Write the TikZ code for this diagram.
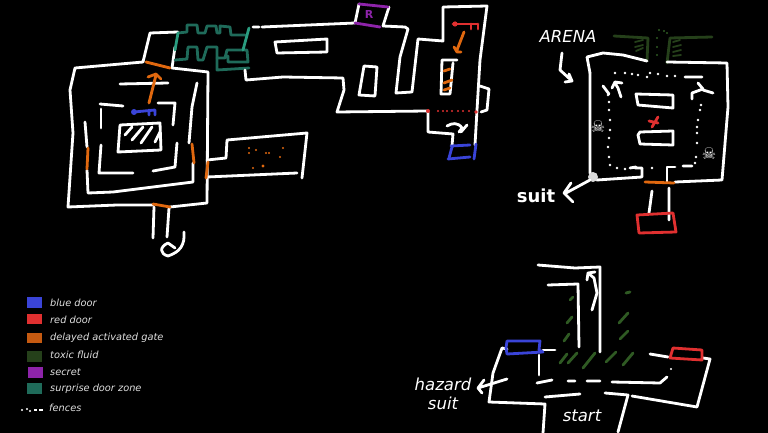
\documentclass[tikz,border=0pt]{standalone}
\usepackage{fontspec}
\setmainfont{DejaVu Sans}
\newfontfamily\skullfont{DejaVu Sans}
\definecolor{cblue}{HTML}{3A44D8}
\definecolor{cred}{HTML}{E03030}
\definecolor{corange}{HTML}{E0680F}
\definecolor{corangeb}{HTML}{C55A11}
\definecolor{ctoxic}{HTML}{25401A}
\definecolor{cpurple}{HTML}{8E24AA}
\definecolor{cteal}{HTML}{1F6B5A}
\definecolor{cpost}{HTML}{2A9D80}
\definecolor{chatch}{HTML}{2F5A23}
\tikzset{
  wall/.style={draw=white,line width=2.8pt,line cap=round,line join=round},
  pen/.style={draw=#1,line width=2.8pt,line cap=round,line join=round},
  thinpen/.style={draw=#1,line width=1.8pt,line cap=round,line join=round},
  legtext/.style={text=white!88!black,font=\itshape\fontsize{9.8pt}{11pt}\selectfont,anchor=west,inner sep=0pt},
  bigtext/.style={text=white,font=\itshape\fontsize{16.5pt}{18pt}\selectfont,inner sep=0pt},
  swatch/.style={draw=none,fill=#1}
}
\begin{document}
\begin{tikzpicture}[x=1pt,y=-1pt]
\fill[black] (0,0) rectangle (768,433);
\useasboundingbox (0,0) rectangle (768,433);
% ---- left map: maze
\draw[wall] (143,62) -- (75,68) -- (70,90) -- (73,133) -- (68,207) -- (117,205) -- (153,205);
\draw[wall] (170,207) -- (207,203) -- (208,72) -- (172,68) -- (175,47);
\draw[wall] (143,62) -- (150,33) -- (178,32);
\draw[wall] (85,122) -- (87,147);
\draw[wall] (87,170) -- (88,193) -- (113,192) -- (193,182) -- (193,163);
\draw[wall] (189,143) -- (192,107) -- (197,83);
\draw[wall] (120,84) -- (168,83);
\draw[wall] (100,104) -- (123,106);
\draw[wall] (101,109) -- (101,128);
\draw[wall] (101,145) -- (99,173) -- (133,173);
\draw[wall] (153,171) -- (175,167) -- (177,143);
\draw[wall] (173,125) -- (175,103) -- (158,103);
\draw[wall] (120,125) -- (160,123) -- (161,150) -- (118,152) -- cycle;
\draw[wall] (125,135) -- (132,127) (132,140) -- (143,127) (141,143) -- (152,127) (155,142) -- (160,132);
\draw[wall] (154,207) -- (153,238) (169,208) -- (167,237);
\draw[wall] (184,232) .. controls (185,245) and (180,252) .. (168,256) .. controls (160,254) and (159,247) .. (168,243) -- (175,248);
\draw[wall] (207,160) -- (226,158) -- (227,140) -- (307,133) -- (302,178);
\draw[wall] (207,177) -- (297,173);
\draw[pen=corange] (146,62) -- (170,68);
\draw[pen=corange] (88,148) -- (87,169);
\draw[pen=corange] (192,144) -- (194,163);
\draw[pen=corange] (208,162) -- (206,178);
\draw[pen=corange] (153,204) -- (170,207);
\draw[pen=corange] (149,103) -- (156,75) (148,77) -- (156,74) -- (161,79);
\draw[pen=cblue] (134,112) -- (155,110) (149,110) -- (149,115) (155,110) -- (155,115);
\fill[cblue] (134,112) circle (3pt);
\foreach \x/\y in {249/148,249/153,256/150,266/153,269/153,283/148,280/157,253/168}
  \fill[corange] (\x,\y) circle (1.2pt);
\fill[corange] (263,166) circle (1.6pt);
% surprise door zone
\draw[pen=cteal] (178,33) -- (187,32) -- (187,25) -- (197,25) -- (198,33) -- (205,33) -- (207,26) -- (216,26) -- (217,33) -- (220,33) -- (220,26) -- (230,27) -- (231,35) -- (245,35);
\draw[pen=cteal] (175,60) -- (187,59) -- (188,47) -- (197,47) -- (198,60) -- (203,60) -- (207,47) -- (217,47) -- (217,58) -- (225,58) -- (227,50) -- (247,50) -- (248,62) -- (228,62) -- (228,56);
\draw[pen=cteal] (217,58) -- (217,70) -- (249,68);
\draw[pen=cpost] (178,33) -- (175,50) (249,28) -- (243,50);
% ---- left map: hall
\draw[wall] (253,27) -- (259,27) (262,27) -- (355,23) (359,4) -- (355,23) (389,7) -- (383,26);
\draw[wall] (383,26) -- (405,27) -- (408,29) -- (400,57) -- (396,93) -- (412,92) -- (418,39) -- (443,41) -- (443,7) -- (487,6) -- (480,60) -- (477,110) -- (475,145);
\draw[wall] (480,86) -- (489,89) -- (487,110) -- (481,112);
\draw[wall] (245,70) -- (246,80) -- (283,77) -- (343,78) -- (344,90) -- (337,112) -- (427,111);
\draw[wall] (275,42) -- (327,39) -- (327,52) -- (277,53) -- cycle;
\draw[wall] (364,66) -- (377,67) -- (375,96) -- (359,95) -- cycle;
\draw[wall] (442,60) -- (457,60) (453,63) -- (450,94) -- (441,94) -- (442,60);
\draw[wall] (428,112) -- (428,132) -- (453,134) -- (452,146);
\draw[wall] (447,126) .. controls (452,123) and (458,122) .. (462,128) -- (459,132) (467,125) -- (461,132);
\draw[pen=cpurple] (359,4) -- (388,7) (355,23) -- (380,27);
\node[text=cpurple,font=\bfseries\fontsize{11pt}{12pt}\selectfont,inner sep=0pt] (secretR) at (369,14) {R};
\draw[pen=corange] (444,71) -- (450,69) (444,83) -- (452,80) (444,90) -- (450,88);
\draw[pen=cred] (453,24) -- (478,24) (471,24) -- (471,29) (478,24) -- (478,29);
\fill[cred] (455,24) circle (2.6pt);
\draw[pen=corange] (464,32) -- (457,50) (454,47) -- (457,52) -- (461,52);
\fill[cred] (428,111) circle (2pt);
\foreach \x in {438,443,447,452,458,463,469}
  \fill[cred] (\x,111) circle (1.2pt);
\fill[cred] (476,112) circle (1.8pt);
\draw[pen=cblue] (451,146) -- (470,145) (448,159) -- (470,157) (452,147) -- (449,158) (476,144) -- (474,159);
% ---- arena
\node[bigtext] (arena) at (568,36) {ARENA};
\draw[wall] (562,53) -- (560,70) -- (572,81) (569,74) -- (572,81) -- (565,82);
\draw[pen=ctoxic] (614,36) -- (648,38) -- (647,61);
\draw[pen=ctoxic] (712,37) -- (670,38) -- (667,63);
\draw[thinpen=ctoxic] (635,42) -- (643,40) (635,47) -- (643,45) (636,51) -- (643,48);
\draw[thinpen=ctoxic] (673,42) -- (680,40) (673,47) -- (681,45) (673,52) -- (681,50) (673,56) -- (681,55);
\foreach \x/\y in {659/30,664/31,667/33,657/38,657/47,657/55}
  \fill[chatch] (\x,\y) circle (1.2pt);
\draw[wall] (590,73) -- (587,57) -- (603,53) -- (623,55) -- (647,61);
\draw[wall] (667,62) -- (727,63) -- (728,107) -- (722,180) -- (675,182);
\draw[wall] (590,73) -- (590,173) -- (597,180) -- (642,177) -- (642,168) -- (635,168);
\draw[wall] (667,182) -- (667,167) -- (675,167);
\fill[white!85!black] (593,177) circle (5pt);
\draw[pen=corange] (645,182) -- (674,183);
\draw[wall] (652,191) -- (649,213) (669,188) -- (669,220);
\draw[pen=cred] (637,215) -- (673,213) -- (676,232) -- (639,233) -- cycle;
\draw[wall] (636,94) -- (673,95) -- (673,108) -- (638,105) -- cycle;
\draw[wall] (640,132) -- (673,131) -- (673,145) -- (640,144) -- (638,135) -- cycle;
\draw[pen=cred] (649,121) -- (658,123) (658,117) -- (652,127);
\node[text=white,font=\skullfont\fontsize{16pt}{17pt}\selectfont,inner sep=0pt] (skulla) at (598,127) {☠};
\node[text=white,font=\skullfont\fontsize{16pt}{17pt}\selectfont,inner sep=0pt] (skullb) at (709,154) {☠};
\foreach \x/\y in {615/73,625/73,632/74,638/75,647/77,650/73,658/74,667/76,675/76,701/105,700/110,698/120,697/127,697/133,697/143,696/157,695/163,608/95,609/102,609/110,610/120,610/130,609/138,608/147,609/157,610/165,617/168,625/169,652/168}
  \fill[white] (\x,\y) circle (1.4pt);
\draw[wall] (685,77) -- (702,77) (683,166) -- (692,166) (630,168) -- (636,167) (603,86) -- (609,94);
\draw[wall] (621,97) -- (618,88) -- (615,83) (612,88) -- (615,82) -- (622,83);
\draw[wall] (692,99) -- (692,93) -- (703,89) -- (698,83) (703,90) -- (713,93);
\draw[wall] (590,180) -- (566,193) (571,183) -- (564,193) -- (573,202);
\node[text=white,font=\bfseries\fontsize{18pt}{19pt}\selectfont,inner sep=0pt] (suitlabel) at (536,196) {suit};
% ---- start area
\draw[wall] (538,265) -- (575,268) -- (600,267) -- (600,352);
\draw[wall] (548,285) -- (578,284) -- (579,347);
\draw[wall] (592,310) -- (597,293) -- (594,278) -- (588,273) (587,280) -- (588,273) -- (595,272);
\draw[wall] (543,350) -- (555,350);
\draw[wall] (507,349) -- (502,348) -- (493,373) -- (489,402) -- (545,404) -- (543,433);
\draw[wall] (539,355) -- (539,375);
\draw[wall] (537,383) -- (552,380) (568,381) -- (575,381) (587,381) -- (600,381) (612,382) -- (660,383) -- (667,377);
\fill[white] (671,369) circle (1.2pt);
\draw[wall] (545,397) -- (580,394) (605,393) -- (628,395) -- (618,432) (632,396) -- (697,407) -- (710,359) -- (703,358) (650,354) -- (668,357);
\draw[wall] (507,379) -- (478,388) (484,380) -- (478,388) -- (482,393);
\draw[pen=cblue] (507,341) -- (540,341) -- (539,350) -- (543,352) -- (507,354) -- (506,348) -- cycle;
\draw[pen=cred] (673,348) -- (702,350) -- (702,360) -- (670,358) -- cycle;
\draw[pen=chatch] (570,300) -- (573,297) (567,323) -- (572,317) (564,341) -- (569,334) (560,363) -- (567,354) (568,363) -- (577,353) (583,368) -- (595,353) (606,362) -- (616,352) (623,365) -- (633,353) (619,323) -- (628,313) (620,339) -- (628,331) (626,293) -- (630,292);
\node[bigtext] (hazard) at (443,384) {hazard};
\node[bigtext] (hsuit) at (443,403) {suit};
\node[bigtext] (start) at (582,416) {start};
% ---- legend
\path[swatch=cblue] (27,297) rectangle (42,308);
\path[swatch=cred] (27,314) rectangle (42,324);
\path[swatch=corangeb] (27,333) rectangle (42,343);
\path[swatch=ctoxic] (27,351) rectangle (42,362);
\path[swatch=cpurple] (28,367) rectangle (43,378);
\path[swatch=cteal] (27,383) rectangle (42,394);
\node[legtext] (l1) at (50,302.5) {blue door};
\node[legtext] (l2) at (50,319.5) {red door};
\node[legtext] (l3) at (50,337.5) {delayed activated gate};
\node[legtext] (l4) at (50,355) {toxic fluid};
\node[legtext] (l5) at (50,372.5) {secret};
\node[legtext] (l6) at (50,388.5) {surprise door zone};
\node[legtext] (l7) at (49,407.5) {fences};
\foreach \x/\y in {22/410,27/409,30/411}
  \fill[white] (\x,\y) circle (1.1pt);
\draw[white,line width=1.6pt] (34,410) -- (37,410) (39,410) -- (43,410);
\end{tikzpicture}
\end{document}
